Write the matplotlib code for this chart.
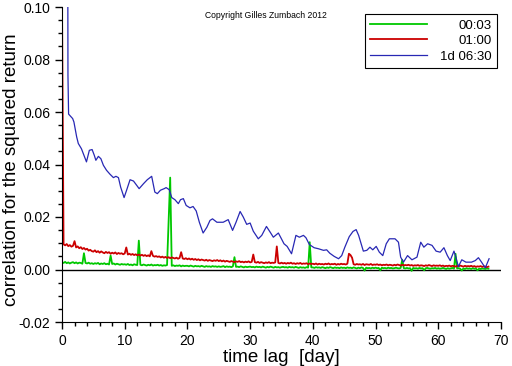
import numpy as np
import matplotlib
matplotlib.use("Agg")
import matplotlib.pyplot as plt

plt.rcParams['font.family'] = ['Liberation Sans', 'DejaVu Sans']
plt.rcParams['axes.unicode_minus'] = False

# lag grid for the 3 min and 1 h series (day)
grid_lag = np.arange(0, 68.01, 0.25)

# 01:00 series, in units of 1e-4
red_val = [
    1000, 96, 92, 97, 89, 93, 87, 90, 108, 84, 88, 81, 85, 78, 82, 76, 79, 72, 75, 70,
    68, 73, 66, 70, 64, 69, 65, 62, 67, 63, 66, 60, 64, 61, 65, 59, 63, 60, 62, 58,
    61, 84, 57, 60, 56, 59, 55, 58, 54, 57, 53, 56, 52, 55, 51, 54, 50, 70, 52, 49,
    51, 48, 50, 46, 49, 45, 48, 44, 47, 43, 46, 44, 42, 45, 41, 44, 66, 42, 40, 43,
    39, 42, 38, 41, 37, 40, 36, 39, 35, 38, 36, 34, 37, 33, 36, 34, 32, 35, 33, 36,
    32, 35, 31, 34, 30, 33, 31, 29, 32, 30, 28, 31, 29, 32, 28, 30, 27, 30, 28, 31,
    27, 29, 57, 28, 26, 29, 25, 28, 26, 24, 27, 25, 28, 24, 26, 25, 27, 88, 25, 23,
    26, 23, 25, 22, 25, 23, 26, 22, 24, 21, 24, 22, 25, 21, 23, 22, 24, 20, 23, 21,
    22, 20, 23, 19, 22, 20, 21, 19, 22, 20, 23, 19, 21, 20, 22, 18, 21, 19, 22, 20,
    21, 19, 22, 60, 55, 45, 20, 18, 21, 19, 20, 18, 21, 17, 20, 19, 18, 21, 17, 19,
    18, 20, 17, 19, 16, 18, 17, 19, 16, 18, 17, 15, 18, 16, 19, 17, 15, 18, 16, 17,
    16, 18, 15, 17, 14, 16, 15, 17, 14, 16, 15, 13, 16, 14, 17, 15, 13, 16, 14, 15,
    14, 16, 13, 15, 12, 14, 13, 15, 12, 14, 13, 11, 14, 12, 15, 13, 11, 14, 12, 13,
    12, 14, 11, 13, 10, 12, 11, 13, 10, 12, 11, 9, 11,
]

# 00:03 series, in units of 1e-4
green_val = [
    28, 25, 29, 24, 27, 23, 26, 28, 24, 27, 23, 26, 25, 22, 62, 25, 23, 26, 22, 24,
    21, 24, 22, 25, 20, 23, 21, 24, 20, 22, 19, 53, 21, 23, 19, 22, 20, 18, 21, 19,
    20, 18, 21, 17, 19, 16, 20, 18, 17, 110, 18, 16, 19, 17, 15, 18, 16, 19, 15, 17,
    16, 18, 15, 17, 14, 16, 15, 17, 180, 350, 14, 16, 13, 15, 14, 16, 12, 15, 13, 14,
    14, 12, 15, 13, 11, 14, 12, 13, 11, 14, 12, 10, 13, 11, 12, 10, 13, 11, 12, 10,
    12, 10, 11, 13, 9, 12, 10, 11, 9, 12, 47, 10, 11, 9, 12, 10, 8, 11, 9, 10,
    11, 9, 10, 8, 11, 9, 10, 8, 11, 9, 7, 10, 8, 11, 9, 7, 10, 8, 9, 7,
    9, 10, 8, 9, 7, 10, 8, 9, 7, 10, 8, 6, 9, 7, 8, 6, 9, 7, 104, 8,
    8, 6, 9, 7, 8, 6, 9, 7, 5, 8, 6, 9, 7, 5, 8, 6, 7, 5, 8, 6,
    7, 5, 8, 6, 7, 5, 8, 6, 4, 7, 5, 8, 6, -4, 7, 5, 6, 4, 7, 5,
    7, 5, 6, -3, 7, 5, 6, 4, 7, 5, 6, 4, 5, 7, 5, 4, 6, 37, 5, 4,
    6, 4, 5, -5, 6, 4, 5, 3, 6, 4, 5, -3, 5, 6, 4, 3, 5, 4, 6, 3,
    5, 3, 4, 6, 4, 2, 5, 3, 4, 6, 3, 60, 4, 5, 3, -4, 4, 2, 5, 3,
    4, 2, 5, 3, 4, -3, 3, 2, 4, 3, 2, 4, 3,
]

# 1d 06:30 series
blue_lag = [0.9, 0.95, 1.05, 1.7, 1.9, 2.34, 2.6, 3.1, 3.5, 3.9, 4.36, 4.8, 5.15, 5.4,
            5.8, 6.2, 6.6, 7.1, 7.65, 8.2, 8.6, 9.0, 9.35, 9.9, 10.3, 10.85, 11.4,
            11.9, 12.3, 13.0, 13.6, 14.3, 14.8, 15.2, 15.7, 16.3, 16.6, 17.1, 17.5,
            18.0, 18.55, 18.9, 19.35, 19.8, 20.4, 20.9, 21.4, 21.9, 22.5, 23.1, 23.6,
            24.0, 24.7, 25.7, 26.5, 27.2, 27.75, 28.4, 28.9, 29.45, 30.0, 30.5, 31.3,
            31.85, 32.6, 33.2, 33.7, 34.5, 34.9, 35.4, 35.9, 36.6, 37.3, 37.85, 38.5,
            38.9, 39.45, 40.2, 40.9, 41.7, 42.2, 42.7, 43.4, 44.1, 44.6, 45.1, 45.8,
            46.4, 46.9, 47.3, 48.05, 48.6, 49.1, 49.55, 50.1, 50.6, 51.15, 51.7, 52.2,
            53.1, 53.65, 54.0, 54.45, 55.1, 55.8, 56.6, 57.2, 57.7, 58.3, 59.0, 59.65,
            60.3, 60.9, 61.45, 61.9, 62.5, 62.8, 63.2, 63.75, 64.4, 65.3, 65.9, 66.4,
            66.9, 67.5, 67.8, 68.1]
blue_val = [0.150, 0.074, 0.0592, 0.0575, 0.0562, 0.0505, 0.048, 0.046, 0.0435, 0.041,
            0.0454, 0.0457, 0.0435, 0.0416, 0.0431, 0.0422, 0.0397, 0.0378, 0.0363,
            0.035, 0.0355, 0.035, 0.0314, 0.0274, 0.0302, 0.0342, 0.0337, 0.0321,
            0.0308, 0.0327, 0.0342, 0.0355, 0.0295, 0.0289, 0.0302, 0.0308, 0.0312,
            0.0304, 0.0274, 0.0266, 0.0251, 0.0266, 0.027, 0.0244, 0.0235, 0.024,
            0.0223, 0.018, 0.0139, 0.0161, 0.0187, 0.0193, 0.018, 0.018, 0.019,
            0.0149, 0.018, 0.0221, 0.020, 0.0172, 0.0177, 0.0146, 0.0117, 0.013,
            0.0164, 0.0142, 0.0123, 0.0139, 0.0121, 0.0098, 0.0088, 0.006, 0.013,
            0.0123, 0.013, 0.0121, 0.0095, 0.0083, 0.0079, 0.0073, 0.0075, 0.0062,
            0.005, 0.0041, 0.0053, 0.0085, 0.0125, 0.0145, 0.0152, 0.013, 0.007,
            0.0073, 0.0085, 0.0075, 0.0088, 0.0066, 0.0053, 0.0098, 0.0117, 0.0117,
            0.0104, 0.0047, 0.0028, 0.0053, 0.0037, 0.0047, 0.0104, 0.0085, 0.0098,
            0.0092, 0.007, 0.0066, 0.0083, 0.0053, 0.0034, 0.007, 0.0047, 0.0011,
            0.0037, 0.0028, 0.0028, 0.0034, 0.0045, 0.0028, 0.0006, 0.0024, 0.0041]

labels = ['00:03', '01:00', '1d 06:30']

fig = plt.figure(figsize=(5.12, 3.66), dpi=100)
ax = fig.add_axes([62/512, 1-322/366, (501-62)/512, (322-7)/366])

ax.axhline(0, color='black', lw=1, zorder=1)
ax.plot(grid_lag, np.array(green_val)*1e-4, color='#00c800', lw=1.3, label=labels[0])
ax.plot(grid_lag, np.array(red_val)*1e-4, color='#cc0000', lw=1.3, label=labels[1])
ax.plot(blue_lag, blue_val, color='#2828b4', lw=0.9, label=labels[2])

ax.set_xlim(0, 70)
ax.set_ylim(-0.02, 0.10)
ax.set_xticks(np.arange(0, 71, 10))
ax.set_xticks(np.arange(0, 71, 2), minor=True)
ax.set_yticks([-0.02, 0.0, 0.02, 0.04, 0.06, 0.08, 0.10])
ax.set_yticks(np.arange(-0.02, 0.1001, 0.005), minor=True)
ax.yaxis.set_major_formatter(matplotlib.ticker.FormatStrFormatter('%.2f'))
ax.tick_params(which='major', direction='out', length=5, width=1, labelsize=10, pad=3.5)
ax.tick_params(which='minor', direction='out', length=3, width=1)
ax.spines['top'].set_visible(False)
ax.spines['right'].set_visible(False)

ax.set_xlabel('time lag  [day]', fontsize=13.5)
ax.set_ylabel('correlation for the squared return', fontsize=13.5)
ax.xaxis.set_label_coords(0.5, -0.085)
ax.yaxis.set_label_coords(-0.096, 0.483)

fig.text(266/512, 1-16/366, 'Copyright Gilles Zumbach 2012', fontsize=6.2,
         ha='center', va='center')

leg = ax.legend(loc='upper right', bbox_to_anchor=(497/512, 1-14/366),
                bbox_transform=fig.transFigure, borderaxespad=0, fancybox=False,
                edgecolor='black', framealpha=1, fontsize=9.5, handlelength=4.3,
                handletextpad=1.0, labelspacing=0.25, borderpad=0.4)
leg.get_frame().set_linewidth(0.8)
fig.canvas.draw()
renderer = fig.canvas.get_renderer()
widths = [t.get_window_extent(renderer).width for t in leg.get_texts()]
for t, w in zip(leg.get_texts(), widths):
    t.set_ha('right')
    t.set_position((max(widths) - w, 0))

fig.savefig('out.png', dpi=100)
